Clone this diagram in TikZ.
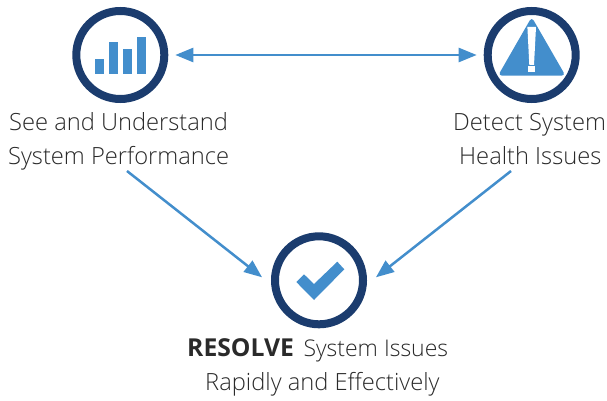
\documentclass[tikz,border=0pt]{standalone}
\usepackage{fontspec}
\setmainfont{Open Sans Light}
\newfontfamily\boldf{Open Sans}[BoldFont={Open Sans Bold}]
\usetikzlibrary{arrows.meta}
\definecolor{ringblue}{HTML}{1B3C6E}
\definecolor{iconblue}{HTML}{438ECC}
\definecolor{inktext}{HTML}{2A2A2A}
\tikzset{
  ring/.style={circle,draw=ringblue,line width=8pt,minimum size=88pt,inner sep=0pt},
  lab/.style={anchor=base west,inner sep=0pt,text=inktext,font=\fontsize{23.7}{28}\selectfont},
  link/.style={draw=iconblue,line width=2.5pt,-{Triangle[length=18pt,width=14pt]}},
  dlink/.style={draw=iconblue,line width=2.5pt,{Triangle[length=18pt,width=14pt]}-{Triangle[length=18pt,width=14pt]}},
  glyph/.style={fill=iconblue,draw=none}
}
\begin{document}
\begin{tikzpicture}[x=1pt,y=-1pt]
\useasboundingbox (0,0) rectangle (607,401);
\node[ring,outer sep=11pt] (see) at (120.3,55) {};
\node[ring,outer sep=11pt] (detect) at (531.7,55) {};
\node[ring,outer sep=13pt] (resolve) at (319,280.3) {};
% bars
\fill[glyph] (95,59) rectangle (104,73.7);
\fill[glyph] (109.3,42.3) rectangle (118,73.7);
\fill[glyph] (123,49.3) rectangle (132,73.7);
\fill[glyph] (137,36.7) rectangle (146,73.7);
% warning triangle
\fill[glyph,rounded corners=4pt] (531.7,17) -- (565.5,75.7) -- (498,75.7) -- cycle;
\fill[white] (527.4,27) -- (536,27) -- (534,65) -- (529.3,65) -- cycle;
\fill[white] (527.6,66) rectangle (534.6,71.7);
% check
\fill[glyph] (296.3,282) -- (304,274.3) -- (314,284) -- (337.3,261.7) -- (344.3,269.3) -- (314,300) -- cycle;
% labels
\node[lab] (l1a) at (9,130) {See and Understand};
\node[lab] (l1b) at (8,164) {System Performance};
\node[lab] (l2a) at (453,130) {Detect System};
\node[lab] (l2b) at (459,164) {Health Issues};
\node[lab] (l3a) at (187,356) {{\boldf\bfseries\fontsize{24.7}{28}\selectfont RESOLVE}\hspace{3.5pt} {\fontsize{23}{28}\selectfont System Issues}};
\node[lab] (l3b) at (205,390) {Rapidly and Effectively};
% connectors
\coordinate (s1) at (127,171);
\coordinate (s2) at (511,171);
\path[dlink] (see) -- (detect);
\path[link] (s1) -- (resolve.177);
\path[link] (s2) -- (resolve.3);
\end{tikzpicture}
\end{document}
